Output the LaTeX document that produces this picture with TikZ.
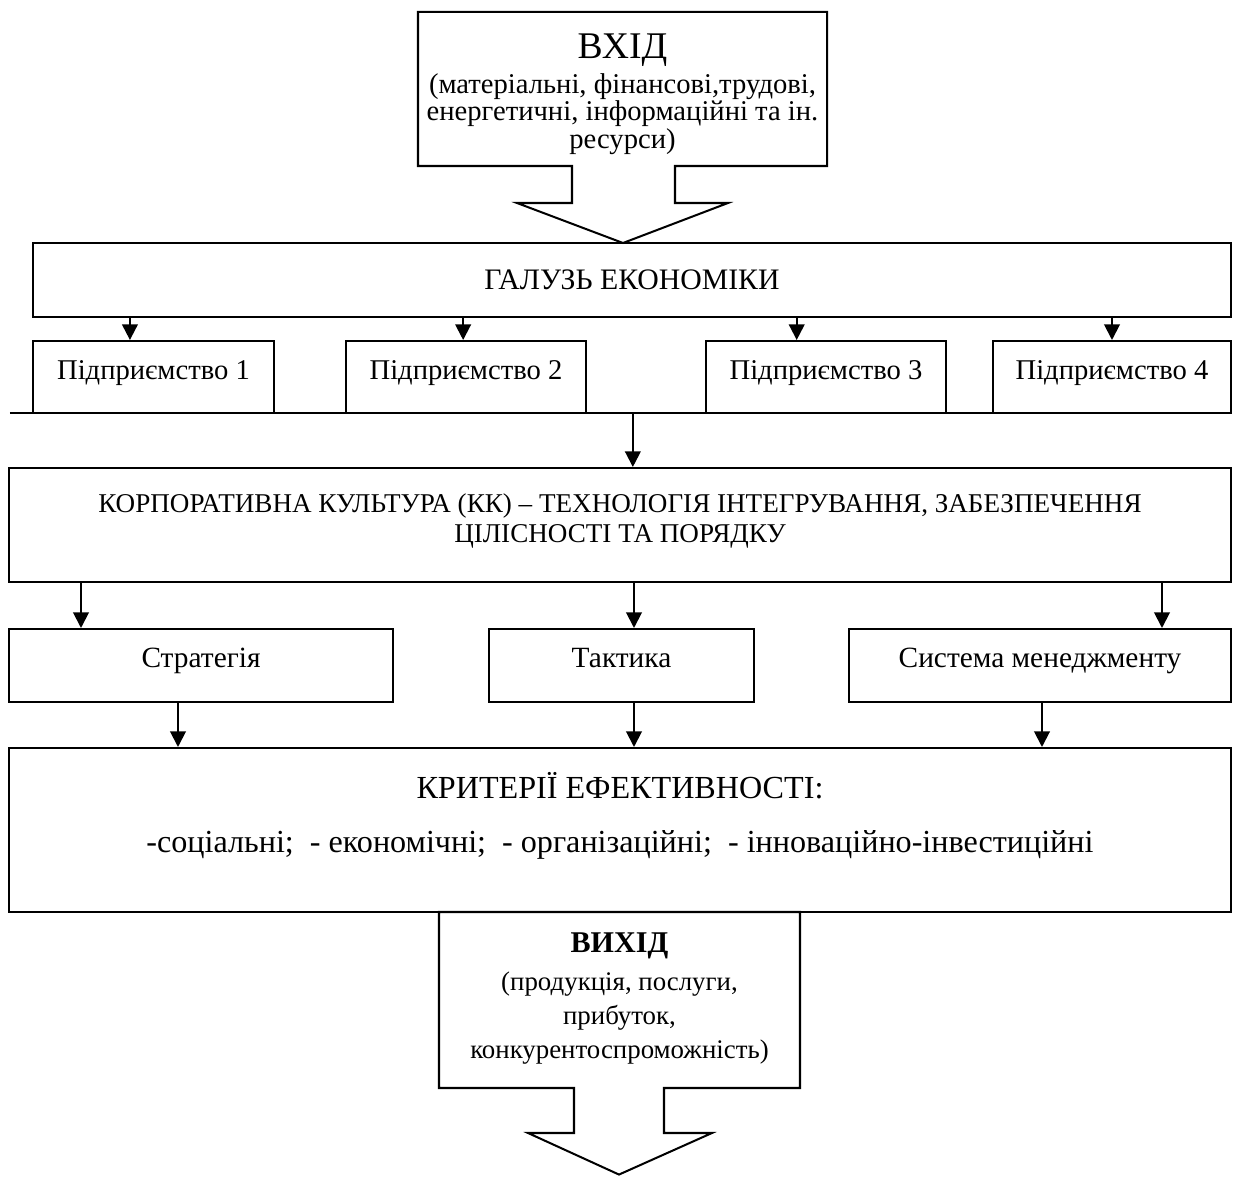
\documentclass[tikz,border=0pt]{standalone}
\usepackage{fontspec}
\setmainfont{Liberation Serif}
\usetikzlibrary{arrows.meta,positioning}
\newcommand{\fsbig}{\fontsize{15}{17}\selectfont}
\newcommand{\fsmid}{\fontsize{11.4}{13.5}\selectfont}
\newcommand{\fslvl}{\fontsize{11.7}{13.5}\selectfont}
\newcommand{\fssmall}{\fontsize{10.8}{12}\selectfont}
\newcommand{\fskrit}{\fontsize{12.8}{14.7}\selectfont}
\tikzset{
  box/.style={draw, line width=0.8pt, inner sep=2pt, align=center, font=\fsmid},
  ent/.style={box, minimum width=3.36cm, minimum height=1.008cm,
              text height=0.68em, text depth=0.5em},
  lvl/.style={box, minimum height=1.022cm, font=\fslvl,
              text height=0.68em, text depth=0.5em},
  wide/.style={box, minimum width=17.108cm},
  arr/.style={-{Triangle[length=2.2mm,width=2.2mm]}, line width=0.8pt},
  bus/.style={line width=0.8pt},
  callout/.style={draw, line width=0.8pt, line join=miter},
}

\begin{document}
\begin{tikzpicture}
\useasboundingbox (0,0) rectangle (17.262,16.464);

% input
\draw[callout] (5.852,14.14) -- (5.852,16.296) -- (11.578,16.296) -- (11.578,14.14)
  -- (9.45,14.14) -- (9.45,13.622) -- (10.192,13.622) -- (8.722,13.062)
  -- (7.238,13.622) -- (8.008,13.622) -- (8.008,14.14) -- cycle;
\node[align=center, anchor=north, inner sep=0pt,
      font={\fontsize{11.4}{11.1}\selectfont\lineskiplimit=-20pt}] (in) at (8.715,16.002)
  {{\fsbig ВХІД}\\[2.8pt](матеріальні, фінансові,трудові,\\енергетичні, інформаційні та ін.\\ресурси)};

% branch and enterprises
\node[box, minimum width=16.772cm, minimum height=1.036cm,
      font=\fontsize{11.85}{13.5}\selectfont] (galuz) at (8.848,12.544)
  {ГАЛУЗЬ ЕКОНОМІКИ};
\node[ent, minimum width=3.374cm] (p1) at (2.149,11.186) {Підприємство 1};
\node[ent] (p2) at (6.524,11.186) {Підприємство 2};
\node[ent] (p3) at (11.564,11.186) {Підприємство 3};
\node[ent, minimum width=3.332cm] (p4) at (15.568,11.186) {Підприємство 4};

\draw[arr] ([xshift=-0.33cm]p1.north |- galuz.south) -- ([xshift=-0.33cm]p1.north);
\draw[arr] ([xshift=-0.04cm]p2.north |- galuz.south) -- ([xshift=-0.04cm]p2.north);
\draw[arr] ([xshift=-0.41cm]p3.north |- galuz.south) -- ([xshift=-0.41cm]p3.north);
\draw[arr] (p4.north |- galuz.south) -- (p4.north);

\coordinate (busL) at (0.14,10.682);
\coordinate (busR) at (17.234,10.682);
\draw[bus] (busL) -- (busR);

% corporate culture
\node[wide, minimum height=1.596cm, font=\fssmall, text depth=5.3pt] (kk) at (8.68,9.114)
  {КОРПОРАТИВНА КУЛЬТУРА (КК) – ТЕХНОЛОГІЯ ІНТЕГРУВАННЯ, ЗАБЕЗПЕЧЕННЯ\\ЦІЛІСНОСТІ ТА ПОРЯДКУ};
\draw[arr] ([xshift=0.18cm]kk.north |- busL) -- ([xshift=0.18cm]kk.north);

\node[lvl, minimum width=5.376cm] (strat) at (2.814,7.147) {Стратегія};
\node[lvl, minimum width=3.71cm] (takt) at (8.701,7.147) {Тактика};
\node[lvl, minimum width=5.348cm] (sys) at (14.56,7.147) {Система менеджменту};

\draw[arr] ([xshift=-1.68cm]strat.north |- kk.south) -- ([xshift=-1.68cm]strat.north);
\draw[arr] ([xshift=0.175cm]takt.north |- kk.south) -- ([xshift=0.175cm]takt.north);
\draw[arr] ([xshift=1.708cm]sys.north |- kk.south) -- ([xshift=1.708cm]sys.north);

% criteria
\node[wide, minimum height=2.296cm, font=\fskrit, text depth=14.1pt] (krit) at (8.68,4.844)
  {КРИТЕРІЇ ЕФЕКТИВНОСТІ:\\[7.1pt]-соціальні;\ \ - економічні;\ \ - організаційні;\ \ - інноваційно-інвестиційні};
\draw[arr] ([xshift=-0.322cm]strat.south) -- ([xshift=-0.322cm]strat.south |- krit.north);
\draw[arr] ([xshift=0.175cm]takt.south) -- ([xshift=0.175cm]takt.south |- krit.north);
\draw[arr] ([xshift=0.028cm]sys.south) -- ([xshift=0.028cm]sys.south |- krit.north);

% output
\draw[callout] (6.146,3.696) -- (6.146,1.232) -- (8.036,1.232) -- (8.036,0.602)
  -- (7.392,0.602) -- (8.666,0.02) -- (9.968,0.602) -- (9.296,0.602)
  -- (9.296,1.232) -- (11.2,1.232) -- (11.2,3.696) -- cycle;
\node[align=center, anchor=north, inner sep=0pt,
      font={\fontsize{10.7}{13.7}\selectfont\lineskiplimit=-20pt}] (out) at (8.673,3.416)
  {{\fontsize{12}{14}\selectfont\bfseries ВИХІД}\\[1.4pt](продукція, послуги,\\прибуток,\\конкурентоспроможність)};

\end{tikzpicture}
\end{document}
